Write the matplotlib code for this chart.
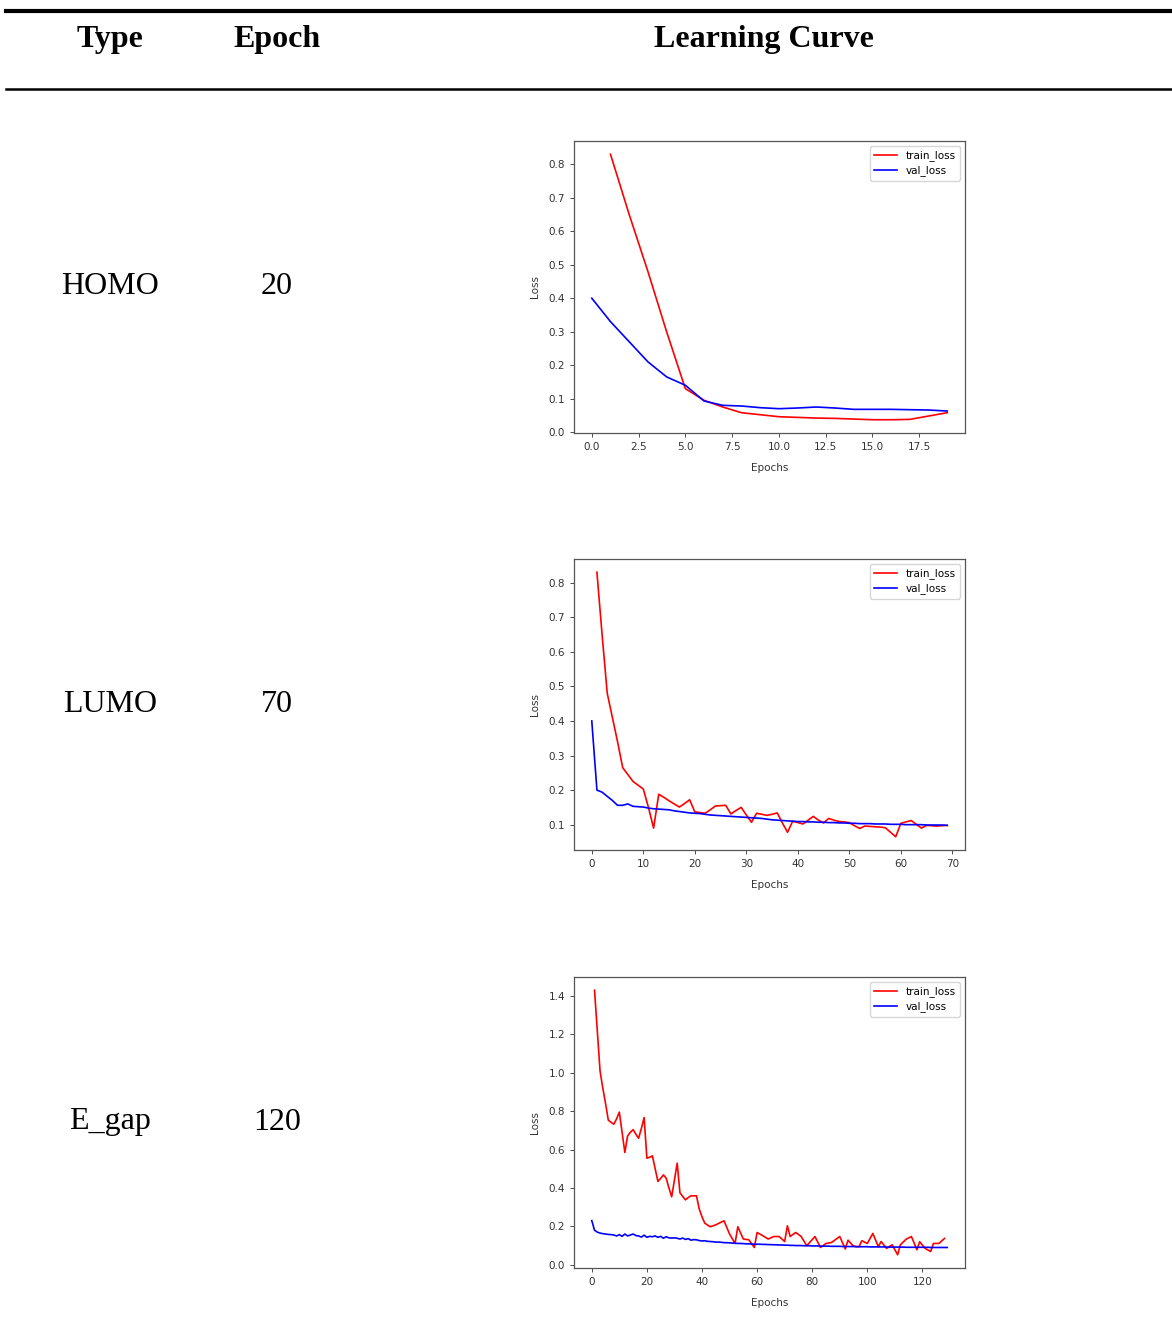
import numpy as np
import matplotlib
matplotlib.use("Agg")
from matplotlib import pyplot as plt
from matplotlib.lines import Line2D

# table rows
types = ["HOMO", "LUMO", "E_gap"]
epochs = ["20", "70", "120"]

# HOMO curves (train starts at epoch 1, val at epoch 0)
homo_train = [0.83, 0.65, 0.48, 0.30, 0.13, 0.095, 0.075, 0.058, 0.052, 0.046,
              0.044, 0.042, 0.041, 0.039, 0.037, 0.037, 0.038, 0.048, 0.058]
homo_val = [0.40, 0.33, 0.27, 0.21, 0.165, 0.14, 0.093, 0.080, 0.078, 0.073,
            0.070, 0.072, 0.075, 0.072, 0.068, 0.068, 0.068, 0.067, 0.066, 0.063]

# LUMO curves
lumo_train = [0.83, 0.65, 0.48, 0.41, 0.34, 0.265, 0.245, 0.225, 0.214, 0.203,
              0.15, 0.09, 0.188, 0.179, 0.169, 0.16, 0.151, 0.161, 0.172, 0.137,
              0.135, 0.133, 0.143, 0.154, 0.155, 0.156, 0.131, 0.141, 0.15, 0.128,
              0.107, 0.133, 0.13, 0.127, 0.13, 0.134, 0.105, 0.078, 0.11, 0.106,
              0.102, 0.113, 0.124, 0.113, 0.105, 0.118, 0.113, 0.109, 0.108, 0.106,
              0.097, 0.089, 0.096, 0.095, 0.094, 0.093, 0.091, 0.078, 0.065, 0.104,
              0.108, 0.112, 0.101, 0.09, 0.098, 0.097, 0.096, 0.097, 0.098]
lumo_val = [0.40, 0.20, 0.194, 0.182, 0.170, 0.156, 0.156, 0.160, 0.153, 0.152,
            0.151, 0.148, 0.146, 0.145, 0.144, 0.143, 0.140, 0.138, 0.136, 0.134,
            0.133, 0.132, 0.130, 0.128, 0.127, 0.126, 0.125, 0.124, 0.123, 0.122,
            0.121, 0.120, 0.119, 0.118, 0.116, 0.114, 0.113, 0.112, 0.111, 0.110,
            0.109, 0.109, 0.108, 0.108, 0.107, 0.107, 0.106, 0.106, 0.105, 0.105,
            0.104, 0.104, 0.103, 0.103, 0.103, 0.102, 0.102, 0.102, 0.101, 0.101,
            0.101, 0.100, 0.100, 0.100, 0.100, 0.099, 0.099, 0.099, 0.099, 0.098]

# E_gap curves
egap_train = [1.43, 1.22, 1.01, 0.92, 0.84, 0.753, 0.742, 0.732, 0.76, 0.795,
              0.69, 0.585, 0.671, 0.69, 0.704, 0.68, 0.659, 0.71, 0.767, 0.555,
              0.56, 0.567, 0.50, 0.434, 0.45, 0.468, 0.451, 0.40, 0.354, 0.44,
              0.529, 0.375, 0.356, 0.338, 0.35, 0.359, 0.359, 0.359, 0.29, 0.25,
              0.217, 0.207, 0.198, 0.203, 0.208, 0.215, 0.222, 0.229, 0.195, 0.16,
              0.135, 0.111, 0.198, 0.166, 0.134, 0.132, 0.13, 0.11, 0.09, 0.168,
              0.16, 0.152, 0.143, 0.134, 0.14, 0.147, 0.147, 0.147, 0.134, 0.121,
              0.203, 0.147, 0.158, 0.168, 0.158, 0.147, 0.123, 0.099, 0.115, 0.131,
              0.147, 0.118, 0.09, 0.10, 0.111, 0.113, 0.116, 0.126, 0.137, 0.147,
              0.115, 0.082, 0.128, 0.112, 0.097, 0.095, 0.094, 0.125, 0.118, 0.111,
              0.137, 0.163, 0.128, 0.094, 0.121, 0.103, 0.085, 0.095, 0.104, 0.078,
              0.052, 0.104, 0.118, 0.132, 0.14, 0.147, 0.112, 0.078, 0.12, 0.102,
              0.085, 0.077, 0.069, 0.111, 0.111, 0.111, 0.124, 0.137]
egap_val = [0.23, 0.18, 0.170, 0.165, 0.162, 0.160, 0.158, 0.157, 0.155, 0.150,
            0.157, 0.148, 0.160, 0.150, 0.155, 0.160, 0.152, 0.150, 0.144, 0.154,
            0.143, 0.148, 0.146, 0.150, 0.143, 0.148, 0.138, 0.146, 0.140, 0.139,
            0.140, 0.138, 0.134, 0.139, 0.132, 0.136, 0.128, 0.131, 0.130, 0.126,
            0.124, 0.125, 0.122, 0.121, 0.120, 0.118, 0.118, 0.117, 0.115, 0.115,
            0.114, 0.113, 0.112, 0.111, 0.111, 0.110, 0.109, 0.109, 0.108, 0.107,
            0.107, 0.107, 0.106, 0.106, 0.105, 0.105, 0.104, 0.104, 0.103, 0.103,
            0.102, 0.102, 0.101, 0.101, 0.100, 0.100, 0.100, 0.099, 0.099, 0.099,
            0.098, 0.098, 0.098, 0.097, 0.097, 0.097, 0.097, 0.096, 0.096, 0.096,
            0.096, 0.095, 0.095, 0.095, 0.095, 0.095, 0.094, 0.094, 0.094, 0.094,
            0.094, 0.093, 0.093, 0.093, 0.093, 0.093, 0.093, 0.092, 0.092, 0.092,
            0.092, 0.092, 0.092, 0.092, 0.091, 0.091, 0.091, 0.091, 0.091, 0.091,
            0.091, 0.091, 0.091, 0.090, 0.090, 0.090, 0.090, 0.090, 0.090, 0.090]

curves = [(homo_train, homo_val), (lumo_train, lumo_val), (egap_train, egap_val)]

W, H = 1172, 1340
fig = plt.figure(figsize=(W / 100, H / 100), dpi=100)
serif = ["Liberation Serif", "DejaVu Serif"]

def fx(px):
    return px / W

def fy(py):
    return 1 - py / H

# table rules
fig.add_artist(Line2D([fx(6), 1], [fy(11), fy(11)], color="black", lw=3.0))
fig.add_artist(Line2D([fx(6), 1], [fy(88.5), fy(88.5)], color="black", lw=1.8))

# header
for txt, px in [("Type", 110), ("Epoch", 277), ("Learning Curve", 764)]:
    fig.text(fx(px), fy(39), txt, ha="center", va="center", fontsize=23,
             fontweight="bold", family=serif)

# plot frames (pixel positions: left, top, right, bottom)
frames = [(574, 141, 965, 433), (574, 559, 965, 850), (574, 977, 965, 1268)]
row_y = [286, 704, 1122]

for i in range(3):
    fig.text(fx(110), fy(row_y[i]), types[i], ha="center", va="center",
             fontsize=23, family=serif)
    fig.text(fx(277), fy(row_y[i]), epochs[i], ha="center", va="center",
             fontsize=23, family=serif)

    l, t, r, b = frames[i]
    ax = fig.add_axes([fx(l), fy(b), (r - l) / W, (b - t) / H])
    tr, va = curves[i]
    ax.plot(np.arange(1, len(tr) + 1), tr, color="red", lw=1.2, label="train_loss")
    ax.plot(np.arange(len(va)), va, color="blue", lw=1.2, label="val_loss")
    ax.set_xlabel("Epochs", fontsize=7.5, color="#333333", labelpad=8)
    ax.set_ylabel("Loss", fontsize=7.5, color="#333333", labelpad=6)
    ax.tick_params(labelsize=7.5, colors="#333333", length=3, width=0.6)
    for s in ax.spines.values():
        s.set_color("#555555")
        s.set_linewidth(0.9)
    ax.legend(loc="upper right", fontsize=7.5, handlelength=2.2,
              borderpad=0.4, labelspacing=0.4)

fig.savefig("out.png", dpi=100)
